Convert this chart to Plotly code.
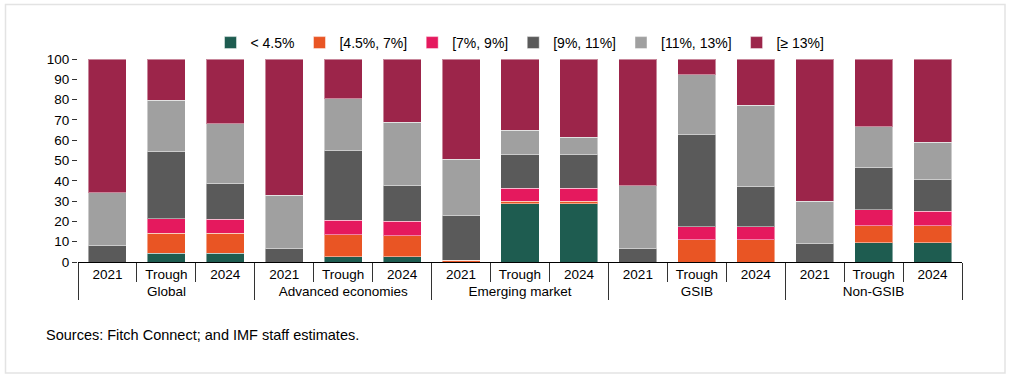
import plotly.graph_objects as go

groups = ["Global"] * 3 + ["Advanced economies"] * 3 + ["Emerging market"] * 3 + ["GSIB"] * 3 + ["Non-GSIB"] * 3
periods = ["2021", "Trough", "2024"] * 5

series_names = ["< 4.5%", "[4.5%, 7%]", "[7%, 9%]", "[9%, 11%]", "[11%, 13%]", "[≥ 13%]"]

lt_4_5 = [0, 4.4, 4.3, 0, 2.5, 2.6, 0, 28.7, 28.7, 0, 0, 0, 0, 9.4, 9.4]
r4_5_7 = [0, 9.7, 9.8, 0, 11.0, 10.4, 0.8, 1.2, 1.2, 0, 11.0, 11.0, 0, 8.5, 8.5]
r7_9 = [0, 7.2, 6.9, 0, 7.0, 7.0, 0, 6.4, 6.4, 0, 6.4, 6.4, 0, 7.9, 7.1]
r9_11 = [7.9, 33.2, 17.9, 6.6, 34.3, 17.9, 22.0, 16.6, 16.6, 6.6, 45.3, 20.0, 8.9, 21.0, 15.4]
r11_13 = [26.3, 25.1, 29.2, 26.2, 25.7, 30.9, 27.9, 12.0, 8.5, 31.0, 29.6, 39.8, 21.1, 19.9, 18.5]
ge_13 = [65.8, 20.4, 31.9, 67.2, 19.5, 31.2, 49.3, 35.1, 38.6, 62.4, 7.7, 22.8, 70.0, 33.3, 41.1]

series_values = [lt_4_5, r4_5_7, r7_9, r9_11, r11_13, ge_13]
colors = ["#1E5C50", "#E95524", "#E5195E", "#5A5A5A", "#A0A0A0", "#9C254A"]

y_ticks = list(range(0, 101, 10))

FONT = "Liberation Sans, Arial, sans-serif"

fig = go.Figure()
for name, vals, col in zip(series_names, series_values, colors):
    fig.add_trace(go.Bar(
        x=[groups, periods], y=vals, name=name,
        marker=dict(color=col, line=dict(color="rgba(255,255,255,0.45)", width=1)),
        hoverinfo="skip",
    ))

W, H = 1011, 379
L, R, T, B = 78, 49, 59, 117
pw = W - L - R
ph = H - T - B

def px_x(x):
    return (x - L) / pw

def px_y(y):
    return (H - B - y) / ph

fig.update_layout(
    width=W, height=H,
    barmode="stack", bargap=0.355,
    margin=dict(l=L, r=R, t=T, b=B),
    plot_bgcolor="white", paper_bgcolor="white",
    font=dict(family=FONT, size=13, color="#000000"),
    legend=dict(
        orientation="h", x=0.5, xanchor="center",
        y=1 + (59 - 43) / ph, yanchor="middle",
        font=dict(size=14), traceorder="normal",
        itemwidth=30, tracegroupgap=0,
    ),
    showlegend=True,
    xaxis=dict(
        type="multicategory",
        showline=True, linecolor="#000000", linewidth=1.3,
        ticks="outside", ticklen=19, tickcolor="#333333", tickwidth=1,
        showdividers=True, dividercolor="#333333", dividerwidth=1,
        tickfont=dict(size=13.5),
        showgrid=False,
    ),
    yaxis=dict(
        range=[0, 100], tickvals=y_ticks,
        ticks="outside", ticklen=5, tickcolor="#333333",
        showline=False, showgrid=False, zeroline=False,
        tickfont=dict(size=13.5),
    ),
    yaxis2=dict(
        range=[0, 100], tickvals=y_ticks, overlaying="y", side="right",
        ticks="outside", ticklen=5, tickcolor="#333333",
        showticklabels=False, showline=False, showgrid=False, zeroline=False,
    ),
)

fig.add_annotation(
    text="Sources: Fitch Connect; and IMF staff estimates.",
    xref="paper", yref="paper", x=px_x(44), y=px_y(335),
    xanchor="left", yanchor="middle", showarrow=False,
    font=dict(size=14.5, family=FONT, color="#000000"),
)

fig.add_shape(
    type="rect", xref="paper", yref="paper",
    x0=px_x(5.5), x1=px_x(1005), y0=px_y(373), y1=px_y(4.5),
    line=dict(color="#E3E3E3", width=1.5), fillcolor="rgba(0,0,0,0)", layer="below",
)

fig.write_html(
    "out.html",
    config={"displayModeBar": False},
    post_script="document.body.style.margin='0';document.body.style.padding='0';",
)
